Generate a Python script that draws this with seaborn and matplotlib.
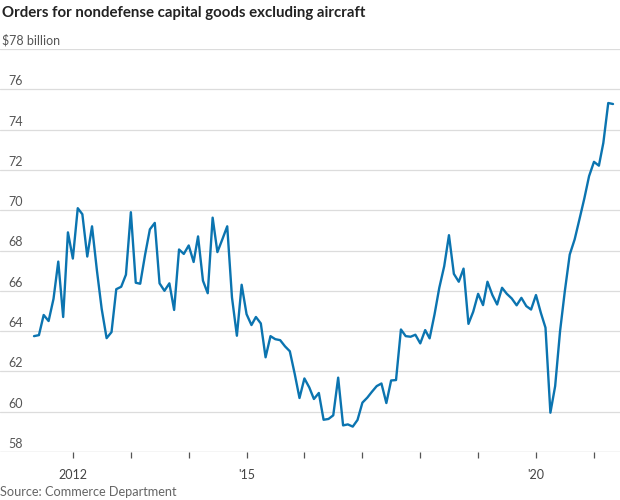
import numpy as np
import pandas as pd
import matplotlib
matplotlib.use("Agg")
import matplotlib.pyplot as plt
import matplotlib.dates as mdates
import seaborn as sns

# ---- data (monthly, May 2011 - May 2021), $ billion ----
start_month = "2011-05-01"
orders = [
    63.75, 63.8, 64.8, 64.5, 65.6, 67.45, 64.7, 68.9, 67.6, 70.1,
    69.8, 67.7, 69.2, 67.0, 65.1, 63.65, 63.95, 66.08, 66.2, 66.8,
    69.9, 66.4, 66.35, 67.8, 69.05, 69.37, 66.37, 66.0, 66.37, 65.05,
    68.05, 67.83, 68.25, 67.43, 68.7, 66.5, 65.88, 69.63, 67.92, 68.55,
    69.2, 65.67, 63.77, 66.3, 64.84, 64.3, 64.7, 64.38, 62.7, 63.75,
    63.6, 63.55, 63.24, 63.0, 61.87, 60.68, 61.65, 61.2, 60.63, 60.93,
    59.6, 59.64, 59.82, 61.69, 59.32, 59.37, 59.26, 59.59, 60.45, 60.7,
    60.98, 61.27, 61.4, 60.43, 61.55, 61.57, 64.08, 63.75, 63.72, 63.82,
    63.39, 64.05, 63.64, 64.83, 66.15, 67.22, 68.76, 66.84, 66.45, 67.1,
    64.36, 64.96, 65.85, 65.29, 66.45, 65.79, 65.32, 66.15, 65.85, 65.62,
    65.28, 65.65, 65.24, 65.07, 65.79, 64.9, 64.17, 59.95, 61.27, 64.0,
    65.98, 67.8, 68.55, 69.54, 70.58, 71.69, 72.4, 72.21, 73.34, 75.32,
    75.27,
]
y_ticks = [58, 60, 62, 64, 66, 68, 70, 72, 74, 76, 78]
y_labels = ["58", "60", "62", "64", "66", "68", "70", "72", "74", "76", "$78 billion"]
x_tick_years = list(range(2012, 2022))
x_tick_labels = ["2012", "", "", "'15", "", "", "", "", "'20", ""]

title = "Orders for nondefense capital goods excluding aircraft"
source = "Source: Commerce Department"

dates = pd.date_range(start_month, periods=len(orders), freq="MS")
df = pd.DataFrame({"date": dates, "orders": orders})

sns.set_theme(style="white")
plt.rcParams["font.family"] = ["Lato", "DejaVu Sans"]

fig = plt.figure(figsize=(6.2, 5.0), dpi=100)
ax = fig.add_axes([0.0, 0.096, 1.0, 0.806])

line_color = "#0b74b0"
sns.lineplot(data=df, x="date", y="orders", ax=ax, color=line_color, linewidth=1.7)

month = pd.Timedelta(days=30.44)
ax.set_xlim(dates[0] - 7.05 * month, dates[-1] + 1.45 * month)
ax.set_ylim(y_ticks[0], y_ticks[-1])

# grid
for v in y_ticks[1:]:
    ax.axhline(v, color="#dcdcdc", linewidth=0.9, zorder=0)
ax.axhline(y_ticks[0], color="#cfcfcf", linewidth=1.0, zorder=0)

for s in ax.spines.values():
    s.set_visible(False)

ax.set_yticks([])
ax.set_xlabel("")
ax.set_ylabel("")

xt = [pd.Timestamp(f"{y}-01-01") for y in x_tick_years]
ax.set_xticks(xt)
ax.set_xticklabels(x_tick_labels)
ax.tick_params(axis="x", direction="out", length=4, width=0.9, color="#555555",
               labelsize=9, labelcolor="#444444", pad=8, bottom=True)

# y labels above gridlines, left aligned
from matplotlib.transforms import offset_copy, blended_transform_factory
trans = blended_transform_factory(fig.transFigure, ax.transData)
trans = offset_copy(trans, fig=fig, x=0, y=2, units="dots")
for v, lab in zip(y_ticks, y_labels):
    xpos = 0.013 if not lab.startswith("$") else 0.003
    ax.text(xpos, v, lab, transform=trans, ha="left", va="bottom",
            fontsize=9, color="#555555")

fig.text(0.003, 0.975, title, ha="left", va="center", fontsize=10.8,
         fontweight="bold", color="#222222")
fig.text(0.0, 0.016, source, ha="left", va="center", fontsize=9.2,
         color="#666666")

fig.savefig("out.png", dpi=100)
